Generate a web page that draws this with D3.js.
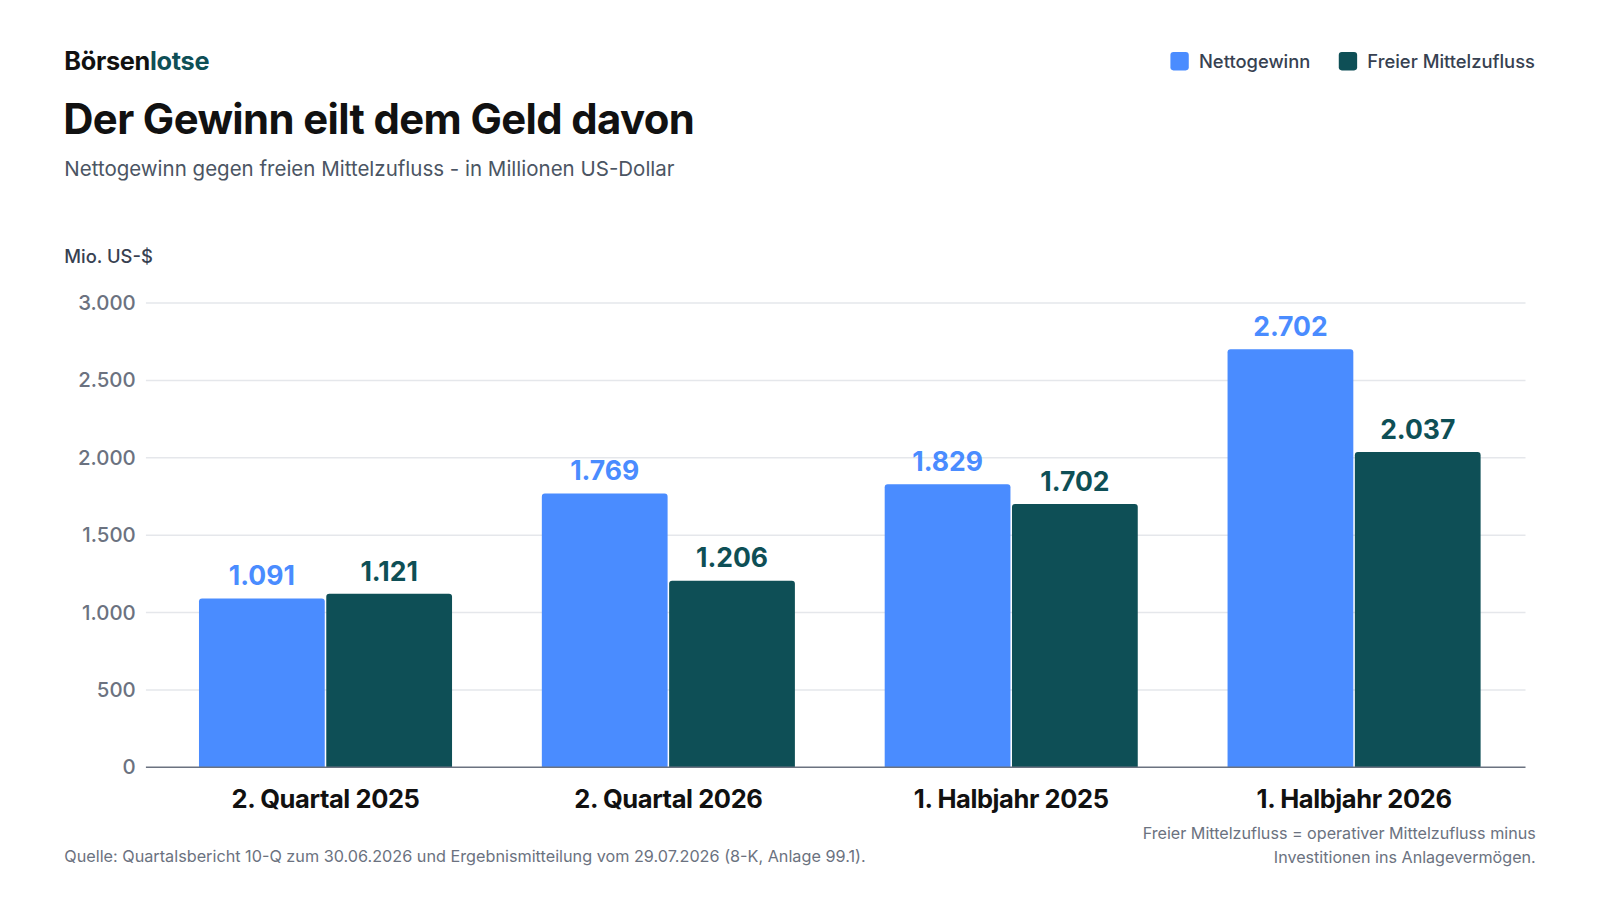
<!DOCTYPE html>
<html><head><meta charset="utf-8">
<script src="https://cdn.jsdelivr.net/npm/d3@7"></script>
<style>body{margin:0;background:#fff;font-family:Inter,"Noto Sans",sans-serif;}</style>
</head><body>
<svg id="c" width="1600" height="900"></svg>
<script>
const categories = ["2. Quartal 2025","2. Quartal 2026","1. Halbjahr 2025","1. Halbjahr 2026"];
const seriesNames = ["Nettogewinn","Freier Mittelzufluss"];
const nettogewinn = [1091,1769,1829,2702];
const freierMittelzufluss = [1121,1206,1702,2037];
const yTicks = [0,500,1000,1500,2000,2500,3000];
const colors = ["#4a8cff","#0e4f56"];

const root = d3.select("#c");
const svg = root.append("g").attr("transform",`scale(${1600/1568})`);
const fmt = v => d3.format(",")(v).replace(/,/g,".");
const groupX = d3.scaleBand().domain(categories).range([151,1495]).padding(0);
const x1 = d3.scaleBand().domain(seriesNames).range([0,248]).paddingInner(0.012);
const y = d3.scaleLinear().domain([0,3000]).range([752,297]);

// header
const logo = svg.append("text").attr("x",63).attr("y",69).attr("font-size",24.8).attr("font-weight",700).attr("letter-spacing","-0.3");
logo.append("tspan").attr("fill","#111").text("Börsen");
logo.append("tspan").attr("fill","#0e4f56").text("lotse");
svg.append("text").attr("x",62).attr("y",131).attr("font-size",41).attr("font-weight",700).attr("letter-spacing","-0.6").attr("fill","#111").text("Der Gewinn eilt dem Geld davon");
svg.append("text").attr("x",63).attr("y",172).attr("font-size",20.1).attr("fill","#4b5563").text("Nettogewinn gegen freien Mittelzufluss - in Millionen US-Dollar");
svg.append("text").attr("x",63).attr("y",258).attr("font-size",18).attr("font-weight",500).attr("fill","#374151").text("Mio. US-$");

// legend
const legX = [1147,1312];
seriesNames.forEach((s,i)=>{
  svg.append("rect").attr("x",legX[i]).attr("y",51).attr("width",18).attr("height",18).attr("rx",3).attr("fill",colors[i]);
  svg.append("text").attr("x",legX[i]+28).attr("y",66.5).attr("font-size",18).attr("font-weight",500).attr("fill","#374151").text(s);
});

// y axis labels
const yAxis = d3.axisLeft(y).tickValues(yTicks).tickFormat(fmt).tickSize(0).tickPadding(0);
const gA = svg.append("g").attr("transform","translate(133,0)").call(yAxis);
gA.select(".domain").remove();
gA.selectAll("text").attr("font-size",20).attr("font-family","Inter,sans-serif").attr("fill","#6b7280").attr("font-weight",500);
// grid
svg.append("g").selectAll("line").data(yTicks.filter(d=>d>0)).join("line")
  .attr("x1",143).attr("x2",1495).attr("y1",d=>y(d)).attr("y2",d=>y(d))
  .attr("stroke","#e5e7eb").attr("stroke-width",1.5);

// bars
const data = categories.map((c,i)=>({c, vals:[nettogewinn[i],freierMittelzufluss[i]]}));
const r = 3;
function topRound(x,yT,w,h){
  const yb = yT+h;
  return `M${x},${yb}V${yT+r}Q${x},${yT} ${x+r},${yT}H${x+w-r}Q${x+w},${yT} ${x+w},${yT+r}V${yb}Z`;
}
const g = svg.append("g");
data.forEach(d=>{
  const gx = groupX(d.c) + 44;
  d.vals.forEach((v,i)=>{
    const bx = gx + x1(seriesNames[i]);
    const bw = x1.bandwidth();
    g.append("path").attr("d",topRound(bx,y(v),bw,y(0)-y(v))).attr("fill",colors[i]);
    g.append("text").attr("x",bx+bw/2).attr("y",y(v)-13).attr("text-anchor","middle")
      .attr("font-size",26).attr("font-weight",700).attr("fill",colors[i]).text(fmt(v));
  });
});

// baseline
svg.append("line").attr("x1",143).attr("x2",1495).attr("y1",752).attr("y2",752).attr("stroke","#6b7280").attr("stroke-width",1.5);

// x axis
const xAxis = d3.axisBottom(groupX).tickSize(0).tickPadding(0);
const gx = svg.append("g").attr("transform","translate(0,792)").call(xAxis);
gx.select(".domain").remove();
gx.selectAll("text").attr("font-size",25).attr("font-weight",700).attr("font-family","Inter,sans-serif").attr("fill","#111").attr("dy",0).attr("letter-spacing","-0.4");

// footer
svg.append("text").attr("x",63).attr("y",845).attr("font-size",15.9).attr("fill","#6b7280").text("Quelle: Quartalsbericht 10-Q zum 30.06.2026 und Ergebnismitteilung vom 29.07.2026 (8-K, Anlage 99.1).");
svg.append("text").attr("x",1505).attr("y",822).attr("text-anchor","end").attr("font-size",15.8).attr("fill","#6b7280").text("Freier Mittelzufluss = operativer Mittelzufluss minus");
svg.append("text").attr("x",1505).attr("y",846).attr("text-anchor","end").attr("font-size",15.8).attr("fill","#6b7280").text("Investitionen ins Anlagevermögen.");
</script>
</body></html>
